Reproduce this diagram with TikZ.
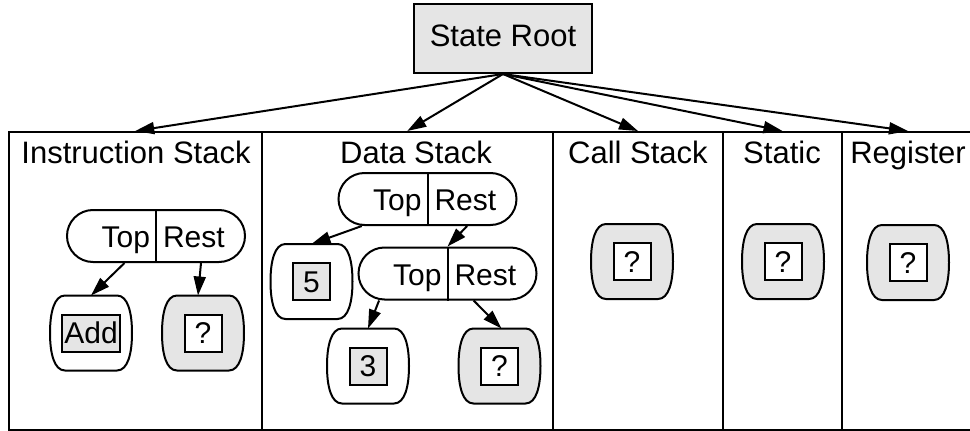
\documentclass[tikz,border=0pt]{standalone}
\usepackage{fontspec}
\setmainfont{Liberation Sans}
\usetikzlibrary{arrows.meta,calc}
\definecolor{boxgray}{RGB}{229,229,229}
\newcommand\mybarrel[2]{\draw[line width=2pt, fill=#2]
  ($(#1.north west)+(15,0)$) -- ($(#1.north east)+(-15,0)$)
  .. controls ($(#1.north east)+(-4,0)$) and ($(#1.east)+(0,-20)$) .. (#1.east)
  .. controls ($(#1.east)+(0,20)$) and ($(#1.south east)+(-4,0)$) .. ($(#1.south east)+(-15,0)$)
  -- ($(#1.south west)+(15,0)$)
  .. controls ($(#1.south west)+(4,0)$) and ($(#1.west)+(0,20)$) .. (#1.west)
  .. controls ($(#1.west)+(0,-20)$) and ($(#1.north west)+(4,0)$) .. cycle;}
\begin{document}
\begin{tikzpicture}[x=1pt,y=-1pt,line width=2pt,
  edge/.style={-{Triangle[length=19pt,width=12pt]},line width=2pt},
  cluster/.style={draw,rectangle,minimum height=297.5pt,inner sep=0pt},
  title/.style={anchor=base,inner sep=0pt,font=\fontsize{31}{37}\selectfont},
  txt/.style={inner sep=0pt,font=\fontsize{30}{36}\selectfont},
  recbox/.style={draw,rectangle,rounded corners=26pt,minimum width=178pt,minimum height=52pt,inner sep=0pt,fill=white},
  barrelbox/.style={rectangle,minimum width=80pt,minimum height=73pt,inner sep=0pt},
  inbox/.style={draw,line width=2pt,minimum width=37pt,minimum height=37pt,inner sep=0pt,
    text height=21.5pt,text depth=0pt,font=\fontsize{30}{36}\selectfont}]
\useasboundingbox (0,0) rectangle (970,431);
\fill[white] (0,0) rectangle (970,431);

% root
\node[draw,fill=boxgray,minimum width=178pt,minimum height=69pt,inner sep=0pt,
  text height=22pt,text depth=6pt,font=\fontsize{31}{37}\selectfont] (root) at (503,38.5) {State Root};

% clusters
\node[cluster,minimum width=252.5pt] (instr) at (135.25,280.75) {};
\node[cluster,minimum width=291.5pt] (data) at (407.25,280.75) {};
\node[cluster,minimum width=170pt] (call) at (638,280.75) {};
\node[cluster,minimum width=119pt] (static) at (782.5,280.75) {};
\node[cluster,minimum width=132pt] (reg) at (908,280.75) {};

\node[title] (tinstr) at (136,163.5) {Instruction Stack};
\node[title] (tdata) at (416,163.5) {Data Stack};
\node[title] (tcall) at (638,163.5) {Call Stack};
\node[title] (tstatic) at (782,163.5) {Static};
\node[title] (treg) at (908,163.5) {Register};

% instruction stack
\node[recbox] (irec) at (156,236) {};
\draw[line width=2pt] (irec.north) -- (irec.south);
\node[txt,anchor=base east] (itop) at ($(irec.center)+(-5,11.5)$) {Top};
\node[txt,anchor=base west] (irest) at ($(irec.center)+(6,11.5)$) {Rest};

\node[barrelbox] (iadd) at (91,333) {};
\mybarrel{iadd}{white}
\node[inbox,fill=boxgray,minimum width=58pt] (iaddv) at (iadd) {Add};
\node[barrelbox] (iq) at (203,333) {};
\mybarrel{iq}{boxgray}
\node[inbox,fill=white] (iqv) at (iq) {?};

% data stack
\node[recbox] (drecA) at (427.5,199) {};
\draw[line width=2pt] (drecA.north) -- (drecA.south);
\node[txt,anchor=base east] (datop) at ($(drecA.center)+(-5,11.5)$) {Top};
\node[txt,anchor=base west] (darest) at ($(drecA.center)+(6,11.5)$) {Rest};

\node[recbox] (drecB) at (447.5,273.5) {};
\draw[line width=2pt] (drecB.north) -- (drecB.south);
\node[txt,anchor=base east] (dbtop) at ($(drecB.center)+(-5,11.5)$) {Top};
\node[txt,anchor=base west] (dbrest) at ($(drecB.center)+(6,11.5)$) {Rest};

\node[barrelbox] (d5) at (311.5,281.5) {};
\mybarrel{d5}{white}
\node[inbox,fill=boxgray] (d5v) at (d5) {5};
\node[barrelbox] (d3) at (368,366) {};
\mybarrel{d3}{white}
\node[inbox,fill=boxgray] (d3v) at (d3) {3};
\node[barrelbox] (dq) at (499.5,366) {};
\mybarrel{dq}{boxgray}
\node[inbox,fill=white] (dqv) at (dq) {?};

% call, static, register
\node[barrelbox] (cq) at (632,261.5) {};
\mybarrel{cq}{boxgray}
\node[inbox,fill=white] (cqv) at (cq) {?};
\node[barrelbox] (sq) at (783,261.5) {};
\mybarrel{sq}{boxgray}
\node[inbox,fill=white] (sqv) at (sq) {?};
\node[barrelbox] (rq) at (908,262.5) {};
\mybarrel{rq}{boxgray}
\node[inbox,fill=white] (rqv) at (rq) {?};

% edges
\draw[edge] (root.south) -- (instr.north);
\draw[edge] (root.south) -- (data.north);
\draw[edge] (root.south) -- (call.north);
\draw[edge] (root.south) -- (static.north);
\draw[edge] (root.south) -- (reg.north);

\draw[edge] ($(irec.south west)!0.65!(irec.south)$) -- (iadd.north);
\draw[edge] ($(irec.south)!0.5!(irec.south east)$) -- ($(iq.north)+(-5,0)$);
\draw[edge] ($(drecA.south west)!0.27!(drecA.south)$) -- (d5.north);
\draw[edge] ($(drecA.south)!0.44!(drecA.south east)$) -- (drecB.north);
\draw[edge] ($(drecB.south west)!0.24!(drecB.south)$) -- (d3.north);
\draw[edge] ($(drecB.south)!0.29!(drecB.south east)$) -- ($(dq.north)+(2,0)$);
\end{tikzpicture}
\end{document}
